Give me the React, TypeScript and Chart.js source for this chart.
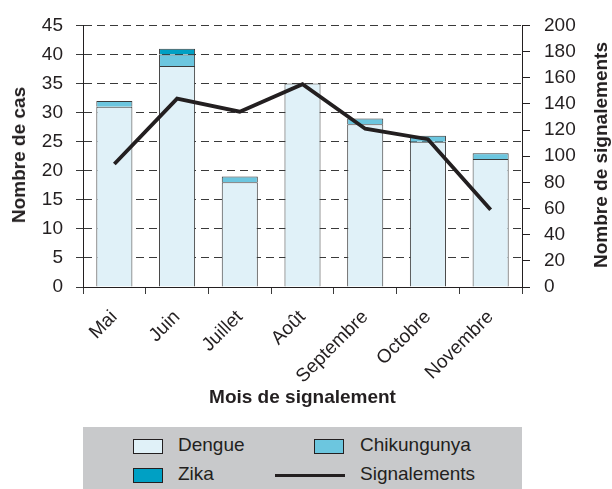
import React, { useEffect, useRef } from "react";
import { Chart, registerables } from "chart.js";

Chart.register(...registerables);

const months = ["Mai", "Juin", "Juillet", "Août", "Septembre", "Octobre", "Novembre"];
const dengue = [31, 38, 18, 35, 28, 25, 22];
const chikungunya = [1, 2, 1, 0, 1, 1, 1];
const zika = [0, 1, 0, 0, 0, 0, 0];
const signalements = [94, 144, 134, 155, 121, 113, 59];
const casTicks = { min: 0, max: 45, step: 5 };
const signalTicks = { min: 0, max: 200, step: 20 };

const INK = "#231f20";
const SANS = "'Liberation Sans', Arial, Helvetica, sans-serif";
const C_DENGUE = "#e0f1f8";
const C_CHIK = "#6cc6df";
const C_ZIKA = "#00a0c4";
const BAR_BORDER = "#3a3a3a";

export default function App() {
  const ref = useRef<HTMLCanvasElement | null>(null);

  useEffect(() => {
    document.body.style.margin = "0";
    const ctx = ref.current!;
    const chart = new Chart(ctx, {
      type: "bar",
      data: {
        labels: months,
        datasets: [
          {
            type: "line",
            label: "Signalements",
            data: signalements,
            yAxisID: "y1",
            borderColor: INK,
            borderWidth: 3.8,
            pointRadius: 0,
            tension: 0,
            order: 0,
          } as any,
          {
            label: "Dengue",
            data: dengue,
            backgroundColor: C_DENGUE,
            borderColor: BAR_BORDER,
            borderWidth: 1,
            yAxisID: "y",
            stack: "s",
            order: 1,
          },
          {
            label: "Chikungunya",
            data: chikungunya,
            backgroundColor: C_CHIK,
            borderColor: BAR_BORDER,
            borderWidth: 1,
            yAxisID: "y",
            stack: "s",
            order: 1,
          },
          {
            label: "Zika",
            data: zika,
            backgroundColor: C_ZIKA,
            borderColor: BAR_BORDER,
            borderWidth: 1,
            yAxisID: "y",
            stack: "s",
            order: 1,
          },
        ],
      },
      options: {
        responsive: false,
        animation: false,
        devicePixelRatio: 1,
        datasets: { bar: { barPercentage: 0.575, categoryPercentage: 1 } },
        layout: { padding: { top: 22, left: 0, right: 0, bottom: 62 } },
        plugins: { legend: { display: false }, tooltip: { enabled: false } },
        scales: {
          x: {
            stacked: true,
            afterFit: (s: any) => {
              s.height = 140;
            },
            grid: {
              offset: true,
              drawOnChartArea: false,
              drawTicks: true,
              tickLength: 7,
              color: BAR_BORDER,
            },
            border: { display: true, color: INK, width: 1 },
            ticks: {
              minRotation: 45,
              maxRotation: 45,
              padding: 12,
              color: INK,
              font: { family: SANS, size: 19 },
            },
            title: {
              display: true,
              text: "Mois de signalement",
              color: INK,
              font: { family: SANS, size: 19, weight: "bold" },
              padding: { top: 0, bottom: 18 },
            },
          },
          y: {
            stacked: true,
            position: "left",
            min: casTicks.min,
            max: casTicks.max,
            afterFit: (s: any) => {
              s.width = 83;
            },
            grid: {
              color: "#3a3a3a",
              lineWidth: 1,
              tickLength: 7,
              drawTicks: true,
            },
            border: { display: true, color: INK, width: 1, dash: [8, 5] },
            ticks: {
              stepSize: casTicks.step,
              padding: 13,
              color: INK,
              font: { family: SANS, size: 19 },
            },
          },
          y1: {
            position: "right",
            min: signalTicks.min,
            max: signalTicks.max,
            afterFit: (s: any) => {
              s.width = 90;
            },
            grid: {
              drawOnChartArea: false,
              drawTicks: true,
              tickLength: 8,
              color: INK,
            },
            border: { display: true, color: INK, width: 1 },
            ticks: {
              stepSize: signalTicks.step,
              padding: 14,
              color: INK,
              font: { family: SANS, size: 19 },
            },
          },
        },
      },
    });
    return () => chart.destroy();
  }, []);

  const textStyle: React.CSSProperties = {
    position: "absolute",
    fontFamily: SANS,
    fontSize: 19,
    color: INK,
    lineHeight: "20px",
    whiteSpace: "nowrap",
  };
  const titleStyle: React.CSSProperties = {
    position: "absolute",
    fontFamily: SANS,
    fontSize: 19,
    fontWeight: "bold",
    color: INK,
    whiteSpace: "nowrap",
    lineHeight: "22px",
    transform: "translate(-50%, -50%) rotate(-90deg)",
  };
  const swatch = (left: number, top: number, bg: string): React.CSSProperties => ({
    position: "absolute",
    left,
    top,
    width: 28,
    height: 13,
    background: bg,
    border: `1px solid ${INK}`,
  });

  return (
    <div style={{ position: "fixed", left: 0, top: 0, width: 612, height: 489, background: "#fff", overflow: "hidden" }}>
      <canvas ref={ref} width={612} height={489} style={{ position: "absolute", left: 0, top: 0, width: 612, height: 489 }} />
      <div style={{ ...titleStyle, left: 19, top: 155 }}>Nombre de cas</div>
      <div style={{ ...titleStyle, left: 601, top: 155 }}>Nombre de signalements</div>
      <div style={{ position: "absolute", left: 83, top: 427, width: 439, height: 62, background: "#c8c9cb" }}>
        <div style={swatch(50, 12, C_DENGUE)} />
        <div style={{ ...textStyle, left: 95, top: 8 }}>Dengue</div>
        <div style={swatch(50, 41, C_ZIKA)} />
        <div style={{ ...textStyle, left: 95, top: 37 }}>Zika</div>
        <div style={swatch(231, 12, C_CHIK)} />
        <div style={{ ...textStyle, left: 277, top: 8 }}>Chikungunya</div>
        <div style={{ position: "absolute", left: 192, top: 47, width: 70, height: 3, background: INK }} />
        <div style={{ ...textStyle, left: 277, top: 37 }}>Signalements</div>
      </div>
    </div>
  );
}
